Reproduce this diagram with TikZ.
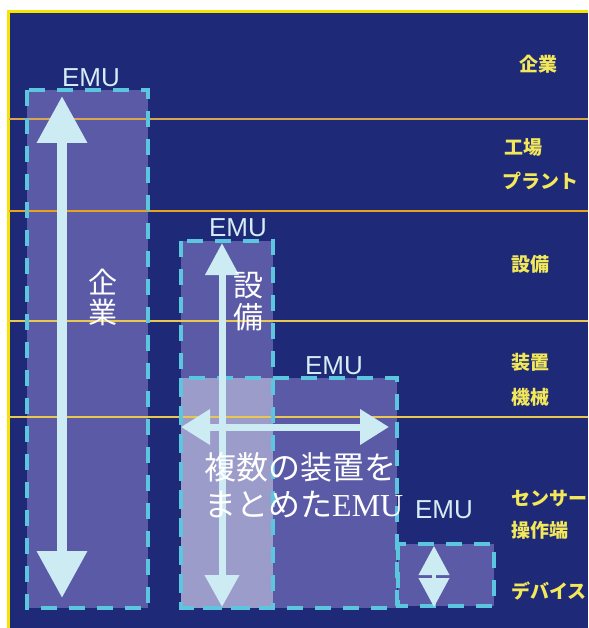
\documentclass[tikz,border=0pt]{standalone}
\usepackage{fontspec}
\setmainfont{Liberation Serif}
\newfontfamily\jp{Noto Sans CJK JP}
\newfontfamily\arialf{Liberation Sans}
\usetikzlibrary{arrows.meta}
\definecolor{navy}{HTML}{1E2977}
\definecolor{bord}{HTML}{F5E300}
\definecolor{goldA}{HTML}{D8A650}
\definecolor{goldB}{HTML}{E9A21E}
\definecolor{goldC}{HTML}{E8C850}
\definecolor{boxfill}{HTML}{5A5AA6}
\definecolor{overfill}{HTML}{9C9CCA}
\definecolor{dashc}{HTML}{5CC6DE}
\definecolor{arrowc}{HTML}{CDEBF3}
\definecolor{lab}{HTML}{F3E85A}
\definecolor{emuc}{HTML}{D5EDF5}
\tikzset{
  fillbox/.style={fill=boxfill, draw=none, inner sep=0pt, outer sep=0pt, anchor=north west},
  overbox/.style={fill=overfill, draw=none, inner sep=0pt, outer sep=0pt, anchor=north west},
  dashbox/.style={draw=dashc, line width=4pt, dash pattern=on 16pt off 12pt},
  levelline/.style={line width=2pt},
  emulabel/.style={text=emuc, font=\arialf\fontsize{26}{28}\selectfont, inner sep=0pt},
  side/.style={text=lab, font=\jp\bfseries\fontsize{19}{21}\selectfont, anchor=west, inner sep=0pt},
  big/.style={text=white, inner sep=0pt},
  blockarrow/.style={draw=arrowc, line width=#1},
}
\begin{document}
\begin{tikzpicture}[x=1pt,y=-1pt]
\useasboundingbox (0,0) rectangle (588,628);
\fill[white] (0,0) rectangle (588,628);
\fill[navy] (9,12) rectangle (588,628);
\draw[bord, line width=3pt] (8.5,628) -- (8.5,11.5) -- (588,11.5);

% box fills
\node[fillbox, minimum width=121pt, minimum height=518pt] (b1) at (27,90) {};
\node[fillbox, minimum width=92pt, minimum height=367pt] (b2) at (181,241) {};
\node[fillbox, minimum width=216pt, minimum height=230pt] (b3) at (181,378) {};
\node[overbox, minimum width=92pt, minimum height=230pt] (ov) at (181,378) {};
\node[fillbox, minimum width=96pt, minimum height=62pt] (b4) at (398,544) {};

% level lines
\coordinate (l1a) at (9,119);  \coordinate (l1b) at (588,119);
\coordinate (l2a) at (9,211);  \coordinate (l2b) at (588,211);
\coordinate (l3a) at (9,321);  \coordinate (l3b) at (588,321);
\coordinate (l4a) at (9,417);  \coordinate (l4b) at (588,417);
\draw[levelline, draw=goldA] (l1a) -- (l1b);
\draw[levelline, draw=goldB] (l2a) -- (l2b);
\draw[levelline, draw=goldC] (l3a) -- (l3b);
\draw[levelline, draw=goldC] (l4a) -- (l4b);

% dashed borders
\draw[dashbox] (b1.north west) rectangle (b1.south east);
\draw[dashbox] (b2.north west) rectangle (b2.south east);
\draw[dashbox] (b3.north west) rectangle (b3.south east);
\draw[dashbox] (b4.north west) rectangle (b4.south east);

% arrows
\coordinate (a1t) at (62,96);   \coordinate (a1b) at (62,598);
\coordinate (a2t) at (222,243); \coordinate (a2b) at (222,607);
\coordinate (a3l) at (181,427); \coordinate (a3r) at (389,427);
\coordinate (a4t) at (434,546); \coordinate (a4b) at (434,607);
\draw[blockarrow=10pt, arrowc, {Triangle[length=47pt,width=48pt]}-{Triangle[length=47pt,width=48pt]}] (a1t) -- (a1b);
\draw[blockarrow=7pt, arrowc, {Triangle[length=32pt,width=32pt]}-{Triangle[length=32pt,width=33pt]}] (a2t) -- (a2b);
\draw[blockarrow=7pt, arrowc, {Triangle[length=29pt,width=34pt]}-{Triangle[length=29pt,width=34pt]}] (a3l) -- (a3r);
\draw[blockarrow=4pt, arrowc, {Triangle[length=29pt,width=30pt]}-{Triangle[length=29pt,width=30pt]}] (a4t) -- (a4b);

% EMU labels
\node[emulabel] (e1) at (91,78) {EMU};
\node[emulabel] (e2) at (238,228) {EMU};
\node[emulabel] (e3) at (334,366) {EMU};
\node[emulabel] (e4) at (444,510) {EMU};

% inner texts
\node[big, font=\jp\fontsize{29}{30}\selectfont, align=center] (t1) at (103,297) {企\\業};
\node[big, font=\jp\fontsize{30}{32}\selectfont, align=center] (t2) at (248,302) {設\\備};
\node[big, font=\jp\fontsize{32}{34}\selectfont, anchor=west] (t3) at (204,467) {複数の装置を};
\node[big, font=\jp\fontsize{32}{34}\selectfont, anchor=west] (t4) at (204,505) {まとめた{\rmfamily EMU}};

% side labels
\node[side] (s1) at (519,64) {企業};
\node[side] (s2) at (504,147) {工場};
\node[side] (s3) at (502,181) {プラント};
\node[side] (s4) at (511,264) {設備};
\node[side] (s5) at (511,362) {装置};
\node[side] (s6) at (511,397) {機械};
\node[side] (s7) at (511,499) {センサー};
\node[side] (s8) at (511,530) {操作端};
\node[side] (s9) at (511,591) {デバイス};
\end{tikzpicture}
\end{document}
